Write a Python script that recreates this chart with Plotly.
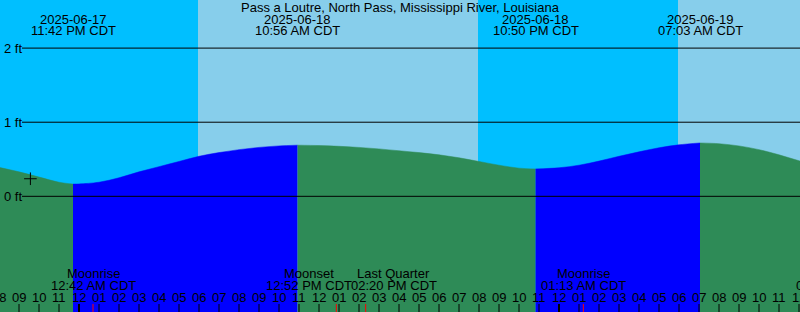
import plotly.graph_objects as go

# ---- data (hours relative to 2025-06-18 00:00 CDT) ----
tide_hours = [-4, -3, -2, -1, -0.3, 0, 1, 2, 3, 4, 5, 6, 7, 8, 9, 10, 10.93,
              12, 13, 14, 15, 16, 17, 18, 19, 20, 21, 22, 22.83,
              24, 25, 26, 27, 28, 29, 30, 31.05, 32, 33, 34, 35, 36, 37]
tide_ft = [0.39, 0.33, 0.26, 0.19, 0.165, 0.167, 0.19, 0.25, 0.33, 0.40, 0.47, 0.54, 0.59, 0.63, 0.66, 0.68, 0.69,
           0.685, 0.675, 0.66, 0.64, 0.615, 0.59, 0.56, 0.52, 0.47, 0.42, 0.38, 0.37,
           0.385, 0.42, 0.475, 0.54, 0.60, 0.655, 0.695, 0.72, 0.71, 0.68, 0.63, 0.56, 0.48, 0.40]

extreme_hours = [-0.3, 10.93, 22.83, 31.05]
extreme_dates = ["2025-06-17", "2025-06-18", "2025-06-18", "2025-06-19"]
extreme_times = ["11:42 PM CDT", "10:56 AM CDT", "10:50 PM CDT", "07:03 AM CDT"]

sunrise_hours = [5.95, 29.95]
sunset_hours = [19.95]

moon_hours = [0.7, 12.867, 14.333, 25.217]
moon_names = ["Moonrise", "Moonset", "Last Quarter", "Moonrise"]
moon_times = ["12:42 AM CDT", "12:52 PM CDT", "02:20 PM CDT", "01:13 AM CDT"]
moon_shift = [0, -27, 28, 0]
offscreen_hour = 37.98
offscreen_name = "Moonset"
offscreen_time = "01:59 PM CDT"

now_hour = -2.43
now_ft = 0.237

hour_ticks = list(range(-4, 37))
hour_labels = ["%02d" % ((t % 12) or 12) for t in hour_ticks]

level_ticks = [0, 1, 2]
level_labels = ["0 ft", "1 ft", "2 ft"]

title = "Pass a Loutre, North Pass, Mississippi River, Louisiana"

# ---- layout constants ----
W, H = 800, 312
X0, X1 = -3.95, 36.05
Y0, Y1 = -1.561, 2.649
NIGHT, DAY = "#00BFFF", "#87CEEB"
RISE, FALL = "#0000FF", "#2E8B57"
FONT = dict(family="Liberation Sans, Arial, sans-serif", size=13, color="black")


def ypaper(px):
    return 1 - px / H


def xpaper(t):
    return (t - X0) / (X1 - X0)


fig = go.Figure()

# tide fill segments split at extremes
bounds = [X0 - 5] + extreme_hours + [X1 + 5]
for i in range(len(bounds) - 1):
    pts = [(t, h) for t, h in zip(tide_hours, tide_ft) if bounds[i] <= t <= bounds[i + 1]]
    xs = [p[0] for p in pts]
    ys = [p[1] for p in pts]
    color = RISE if ys[-1] > ys[0] else FALL
    fig.add_trace(go.Scatter(x=xs, y=[Y0] * len(xs), mode="lines",
                             line=dict(width=0, color=color), hoverinfo="skip", showlegend=False))
    fig.add_trace(go.Scatter(x=xs, y=ys, mode="lines", fill="tonexty", fillcolor=color,
                             line=dict(width=0.5, color=color, shape="spline", smoothing=1.0),
                             hoverinfo="skip", showlegend=False))

fig.add_trace(go.Scatter(x=[now_hour], y=[now_ft], mode="markers",
                         marker=dict(symbol="cross-thin", size=9, line=dict(width=1, color="black")),
                         hoverinfo="skip", showlegend=False))

shapes = []
# sky background
edges = sorted([(t, "rise") for t in sunrise_hours] + [(t, "set") for t in sunset_hours])
start = X0 - 1
state = NIGHT if edges[0][1] == "rise" else DAY
for t, kind in edges:
    shapes.append(dict(type="rect", xref="x", yref="paper", x0=start, x1=t, y0=0, y1=1,
                       fillcolor=state, line=dict(width=0), layer="below"))
    start = t
    state = DAY if kind == "rise" else NIGHT
shapes.append(dict(type="rect", xref="x", yref="paper", x0=start, x1=X1 + 1, y0=0, y1=1,
                   fillcolor=state, line=dict(width=0), layer="below"))

# level lines
for lv in level_ticks:
    shapes.append(dict(type="line", xref="paper", yref="y", x0=22 / W, x1=1, y0=lv, y1=lv,
                       line=dict(color="black", width=1), layer="above"))

# hour ticks
tick_top = 8 / H
for t in hour_ticks:
    midnight = (t % 24 == 0)
    shapes.append(dict(type="line", xref="x", yref="paper", x0=t, x1=t, y0=0, y1=tick_top,
                       line=dict(color="black", width=2 if midnight else 1), layer="above"))
for t in moon_hours:
    shapes.append(dict(type="line", xref="x", yref="paper", x0=t, x1=t, y0=0, y1=tick_top,
                       line=dict(color="red", width=1), layer="above"))

ann = []
ann.append(dict(text=title, xref="paper", yref="paper", x=0.5, y=ypaper(7),
                showarrow=False, font=FONT, xanchor="center", yanchor="middle"))
for t, d, tm in zip(extreme_hours, extreme_dates, extreme_times):
    ann.append(dict(text=d, xref="x", yref="paper", x=t, y=ypaper(19), showarrow=False,
                    font=FONT, xanchor="center", yanchor="middle"))
    ann.append(dict(text=tm, xref="x", yref="paper", x=t, y=ypaper(31), showarrow=False,
                    font=FONT, xanchor="center", yanchor="middle"))
for lv, lab in zip(level_ticks, level_labels):
    ann.append(dict(text=lab, xref="paper", yref="y", x=2 / W, y=lv, showarrow=False,
                    font=FONT, xanchor="left", yanchor="middle"))
for t, lab in zip(hour_ticks, hour_labels):
    ann.append(dict(text=lab, xref="paper", yref="paper", x=xpaper(t), y=ypaper(297.5), showarrow=False,
                    font=FONT, xanchor="center", yanchor="middle"))
for t, nm, tm, sh in zip(moon_hours, moon_names, moon_times, moon_shift):
    ann.append(dict(text=nm, xref="x", yref="paper", x=t, xshift=sh, y=ypaper(273.5), showarrow=False,
                    font=FONT, xanchor="center", yanchor="middle"))
    ann.append(dict(text=tm, xref="x", yref="paper", x=t, xshift=sh, y=ypaper(285.5), showarrow=False,
                    font=FONT, xanchor="center", yanchor="middle"))
ann.append(dict(text=offscreen_name, xref="paper", yref="paper", x=xpaper(offscreen_hour), y=ypaper(273.5),
                showarrow=False, font=FONT, xanchor="center", yanchor="middle"))
ann.append(dict(text=offscreen_time, xref="paper", yref="paper", x=xpaper(offscreen_hour), y=ypaper(285.5),
                showarrow=False, font=FONT, xanchor="center", yanchor="middle"))

fig.update_layout(
    width=W, height=H, margin=dict(l=0, r=0, t=0, b=0, pad=0),
    paper_bgcolor=NIGHT, plot_bgcolor=NIGHT,
    xaxis=dict(range=[X0, X1], visible=False, fixedrange=True),
    yaxis=dict(range=[Y0, Y1], visible=False, fixedrange=True),
    shapes=shapes, annotations=ann, showlegend=False,
)
fig.write_html("out.html", config={"displayModeBar": False})
